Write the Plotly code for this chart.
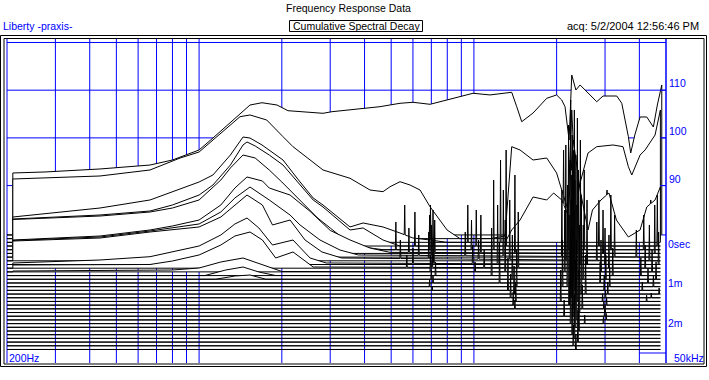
import numpy as np
import plotly.graph_objects as go

# ---------------- data ----------------
GRID_HZ = [200, 300, 400, 500, 600, 700, 800, 900,
           1000, 2000, 3000, 4000, 5000, 6000, 7000, 8000, 9000,
           10000, 20000, 30000, 40000, 50000]
LEVEL_GRID_DB = [120, 110, 100, 90]
LEVEL_LABEL_DB = [110, 100, 90]
LEVEL_LABELS = ["110", "100", "90"]
TIME_LABEL_MS = [0, 1, 2]
TIME_LABELS = ["0sec", "1m", "2m"]
FREQ_MIN_HZ, FREQ_MAX_HZ = 200, 50000
FREQ_MIN_LABEL, FREQ_MAX_LABEL = "200Hz", "50kHz"

SLICE_MS = [0.000, 0.094, 0.188, 0.282, 0.376, 0.470, 0.564, 0.658, 0.752, 0.846,
            0.940, 1.034, 1.128, 1.222, 1.316, 1.410, 1.504, 1.598, 1.692, 1.786,
            1.880, 1.974, 2.068, 2.162, 2.256, 2.350, 2.444, 2.538, 2.632, 2.726,
            2.820, 2.914]
ZERO_SEC_DB = 79.65      # level of the 0 sec slice floor
DB_PER_MS = 8.24         # vertical offset of slices per ms
SLICE_END_HZ = 47700

S0_HZ = [210, 275, 436, 663, 800, 1000, 1123, 1300, 1532, 1694, 1921, 2106, 2824, 3046, 3949,
         4554, 5384, 6004, 6924, 7986, 9926, 11446, 13726, 14314, 14928, 16414, 18408, 19996,
         20868, 21455, 22200, 22700, 23500, 24340, 25740, 27990, 29500, 33100, 34520, 36480,
         37200, 38500, 40240, 42560, 44980, 46500, 48260]
S0_DB = [92.64, 92.85, 93.48, 94.31, 95.36, 97.46, 99.97, 103.33, 106.89, 107.37, 106.89, 105.70,
         105.15, 105.49, 106.20, 106.54, 107.25, 107.46, 107.04, 107.94, 109.35, 109.00, 109.56,
         106.54, 103.39, 105.21, 108.30, 109.00, 107.94, 106.54, 99.55, 113.18, 110.04, 111.09,
         109.68, 107.58, 108.78, 108.78, 107.25, 100.25, 96.83, 100.60, 104.38, 104.38, 102.28,
         106.89, 111.09]

S1_HZ = [210, 436, 663, 853, 1000, 1300, 1409, 1532, 1762, 2020, 2197, 2824, 3542, 4188, 4670,
         4952, 5384, 5855, 6368, 6924, 7986, 8900, 9926, 11446, 12980, 13726, 14720, 16414, 18408,
         19996, 20868, 22000, 22700, 23500, 24500, 26020, 27990, 32080, 34880, 36480, 37540,
         40240, 41960, 45620, 47700]
S1_DB = [91.38, 92.01, 93.27, 95.78, 97.04, 102.70, 104.44, 104.80, 103.75, 100.25, 98.15, 93.27,
         91.53, 89.07, 88.72, 89.76, 90.81, 90.12, 89.07, 85.57, 80.69, 78.59, 78.17, 78.59, 79.43,
         98.15, 97.46, 95.36, 95.78, 92.64, 89.07, 84.88, 105.85, 86.98, 91.17, 96.83, 98.15,
         98.51, 98.15, 93.96, 92.22, 96.41, 97.46, 100.60, 105.85]

S2_HZ = [210, 436, 663, 800, 1000, 1123, 1300, 1445, 1532, 1694, 2020, 2300, 2600, 2824, 3542,
         3950, 4670, 5384, 6000, 6924, 7986, 9926, 12980, 13726, 14720, 16414, 18408, 19500,
         20868, 22000, 23000, 24340, 26020, 27000, 29000, 31000, 33000, 36480, 40240, 42560,
         45620, 47700]
S2_DB = [83.41, 85.30, 86.98, 88.65, 90.75, 92.22, 96.41, 100.18, 99.97, 98.51, 95.36, 91.17,
         87.40, 85.93, 81.32, 82.16, 81.32, 80.06, 79.01, 78.59, 77.96, 77.96, 77.96, 80.69, 82.78,
         87.61, 86.98, 88.44, 86.98, 83.83, 99.55, 89.07, 80.69, 84.88, 86.98, 88.44, 82.78,
         79.22, 80.69, 85.51, 86.98, 89.70]

S3_HZ = [210, 436, 663, 800, 1000, 1123, 1300, 1445, 1494, 1600, 1800, 2020, 2300, 2600, 2824,
         3542, 3950, 4670, 5384, 6000]
S3_DB = [82.99, 83.83, 84.67, 85.93, 88.02, 90.12, 94.31, 98.51, 99.14, 98.30, 96.41, 94.31,
         90.54, 86.98, 85.51, 80.69, 81.11, 78.59, 77.12, 76.49]

S4_HZ = [210, 436, 663, 800, 1000, 1200, 1300, 1445, 1600, 1800, 2000, 2330, 2700, 3000, 3400,
         3950, 4670]
S4_DB = [82.89, 83.62, 84.46, 85.30, 86.98, 91.17, 93.69, 96.41, 95.78, 93.27, 90.75, 86.98,
         83.20, 81.11, 78.59, 77.12, 76.08]

S5_HZ = [210, 436, 663, 800, 1000, 1200, 1350, 1494, 1700, 1800, 2143, 2534, 3000, 3542, 4188, 4952]
S5_DB = [78.59, 79.43, 80.69, 81.53, 82.78, 85.93, 89.49, 91.80, 90.96, 89.49, 88.02, 84.60,
         80.60, 78.60, 76.90, 76.00]

S6_HZ = [210, 436, 663, 800, 1000, 1200, 1350, 1532, 1800, 2143, 2330, 2754, 3256, 3800]
S6_DB = [78.49, 79.22, 80.48, 81.11, 81.95, 84.46, 87.40, 89.70, 86.98, 83.83, 81.74, 78.59,
         76.49, 75.45]

S7_HZ = [210, 436, 663, 800, 1000, 1200, 1350, 1494, 1700, 1850, 2143, 2430, 2800, 3300]
S7_DB = [78.38, 79.01, 80.27, 80.69, 81.32, 83.41, 85.93, 88.02, 85.93, 81.74, 82.78, 78.59,
         76.08, 74.82]

S8_HZ = [210, 436, 663, 800, 1000, 1200, 1350, 1494, 1650, 1850, 2197, 2534, 2900]
S8_DB = [73.77, 74.40, 75.09, 76.08, 77.33, 79.64, 81.95, 83.20, 81.11, 77.54, 78.59, 74.82, 73.77]

S9_HZ = [210, 436, 663, 800, 1000, 1200, 1350, 1532, 1700, 1900, 2197, 2600]
S9_DB = [73.35, 73.35, 73.46, 74.19, 75.45, 77.54, 79.43, 80.27, 78.59, 74.82, 76.08, 72.93]

S10_HZ = [210, 800, 1000, 1200, 1445, 1700, 2000]
S10_DB = [72.09, 72.30, 72.72, 73.98, 74.82, 73.35, 71.99]

S11_HZ = [200, 1050, 1250, 1445, 1650, 1900]
S11_DB = [71.14, 71.14, 72.30, 72.93, 71.88, 71.14]

S12_HZ = [200, 1150, 1350, 1532, 1750]
S12_DB = [70.37, 70.37, 71.04, 71.25, 70.37]

# narrow resonance spikes standing on the later slices
SPK_G_SLICE = [2, 3, 4, 5, 6, 7, 8, 9]
SPK_G_HZ = [5600, 6100, 5200, 5800, 6300, 5400, 6000, 5700]
SPK_G_DB = [85.93, 84.46, 82.37, 81.11, 79.64, 78.59, 76.91, 75.45]

SPK_A_SLICE = [2, 3, 4, 5, 6, 7, 8, 9, 10, 11, 12, 13, 14, 15]
SPK_A_HZ = [6950, 7100, 6900, 7200, 7000, 6850, 7150, 7050, 6950, 7250, 7000, 7100, 6900, 7050]
SPK_A_DB = [85.93, 84.88, 83.83, 82.78, 81.74, 80.27, 79.01, 77.54, 75.45, 73.98, 72.30, 71.25,
            70.21, 68.74]

SPK_B_SLICE = [2, 3, 4, 5, 6, 7, 8, 9, 10]
SPK_B_HZ = [9500, 10200, 9800, 10600, 9300, 10400, 9900, 10900, 10100]
SPK_B_DB = [85.93, 84.88, 82.78, 83.83, 80.27, 78.59, 77.54, 76.49, 73.98]

SPK_C_SLICE = [2, 3, 4, 5, 6, 7, 8, 9, 10, 11, 12, 13, 14, 15, 16, 17, 18, 19, 20]
SPK_C_HZ = [12500, 13100, 11800, 14100, 12800, 13500, 12200, 14500, 13000, 11600, 13800, 12400,
            14300, 13300, 14000, 13600, 14200, 13900, 14100]
SPK_C_DB = [95.36, 97.46, 91.17, 92.22, 89.07, 86.98, 85.93, 84.46, 82.78, 81.11, 79.64, 78.17,
            76.49, 74.82, 73.14, 71.46, 69.79, 67.69, 66.01]

SPK_D_SLICE = [2, 3, 4, 5, 6, 7, 8, 9, 10, 11, 12, 13, 14, 15, 16, 17, 18, 19, 20, 21, 22, 23,
               24, 25, 26, 27, 28, 29, 30, 31]
SPK_D_HZ = [22500, 23200, 22100, 23800, 22800, 21600, 24400, 23000, 22400, 23500, 24000, 22700,
            21900, 23300, 24600, 22600, 23700, 22200, 23100, 24200, 22900, 23600, 22500, 23400,
            24100, 22800, 23200, 23900, 23000, 23500]
SPK_D_DB = [107.94, 105.85, 102.70, 104.17, 100.60, 98.51, 99.55, 97.46, 95.36, 96.41, 93.27,
            92.22, 90.12, 91.17, 88.02, 86.98, 85.93, 83.83, 84.88, 81.74, 80.69, 78.59, 76.49,
            74.40, 72.30, 70.21, 67.06, 63.91, 60.77, 58.67]

SPK_D2_SLICE = [2, 4, 6, 8, 10, 12, 14, 16, 18, 20, 22, 24]
SPK_D2_HZ = [21200, 25200, 20900, 25800, 21400, 25000, 21000, 25500, 20700, 24800, 21300, 25300]
SPK_D2_DB = [97.46, 93.27, 89.07, 86.98, 84.88, 81.74, 78.59, 75.45, 72.30, 69.16, 66.01, 62.87]

SPK_E_SLICE = [2, 3, 4, 5, 6, 7, 8, 9, 10, 11, 12, 13, 14, 15, 16, 17, 18, 19, 20, 21, 22, 23, 24]
SPK_E_HZ = [30500, 28500, 31500, 29500, 32500, 28000, 30000, 31000, 29000, 32000, 30200, 28800,
            31200, 29800, 30700, 30100, 29400, 30400, 29700, 30000, 29900, 30300, 29600]
SPK_E_DB = [89.07, 86.98, 88.02, 84.88, 83.83, 82.37, 81.11, 79.64, 78.59, 76.91, 75.45, 73.98,
            72.72, 71.25, 69.79, 68.11, 67.30, 66.40, 65.60, 64.80, 64.00, 63.20, 62.40]

SPK_F_SLICE = [2, 3, 4, 5, 6, 7, 8, 9, 10, 11, 12, 13, 14, 15, 16, 17, 18]
SPK_F_HZ = [44000, 46500, 41500, 45500, 39000, 43500, 47000, 42000, 44500, 40500, 46000, 43000,
            45000, 41000, 47200, 44200, 42500]
SPK_F_DB = [86.98, 88.02, 83.83, 85.93, 80.69, 81.74, 80.27, 77.54, 76.49, 74.82, 73.98, 72.72,
            71.25, 69.79, 68.53, 67.48, 67.00]

TITLE = "Frequency Response Data"
SUBTITLE = "Cumulative Spectral Decay"
LEFT_TEXT = "Liberty -praxis-"
RIGHT_TEXT = "acq: 5/2/2004 12:56:46 PM"

# ---------------- layout geometry ----------------
W, H = 709, 380
L, R, T, B = 7, 666, 42, 363
DB_TOP = 120.1
PX_PER_DB = 4.77
DB_BOTTOM = DB_TOP - (B - T) / PX_PER_DB
BLUE = "#0000ff"
FONT = "Liberation Sans, Arial, sans-serif"
SPIKE_HALF_WIDTH = 1.004

LOG_LO, LOG_HI = np.log10(FREQ_MIN_HZ), np.log10(FREQ_MAX_HZ)


def hz_to_paper(f):
    return (np.log10(f) - LOG_LO) / (LOG_HI - LOG_LO)


def db_to_paper(d):
    return (d - DB_BOTTOM) / (DB_TOP - DB_BOTTOM)


def db_to_px(d):
    return T + (DB_TOP - d) * PX_PER_DB


def xpx(x):
    return (x - L) / (R - L)


def ypx(y):
    return (B - y) / (B - T)


CURVES = {0: (S0_HZ, S0_DB), 1: (S1_HZ, S1_DB), 2: (S2_HZ, S2_DB), 3: (S3_HZ, S3_DB),
          4: (S4_HZ, S4_DB), 5: (S5_HZ, S5_DB), 6: (S6_HZ, S6_DB), 7: (S7_HZ, S7_DB),
          8: (S8_HZ, S8_DB), 9: (S9_HZ, S9_DB), 10: (S10_HZ, S10_DB), 11: (S11_HZ, S11_DB),
          12: (S12_HZ, S12_DB)}

SPIKES = []
for sl, hz, db in [(SPK_G_SLICE, SPK_G_HZ, SPK_G_DB),
                   (SPK_A_SLICE, SPK_A_HZ, SPK_A_DB), (SPK_B_SLICE, SPK_B_HZ, SPK_B_DB),
                   (SPK_C_SLICE, SPK_C_HZ, SPK_C_DB), (SPK_D_SLICE, SPK_D_HZ, SPK_D_DB),
                   (SPK_D2_SLICE, SPK_D2_HZ, SPK_D2_DB), (SPK_E_SLICE, SPK_E_HZ, SPK_E_DB),
                   (SPK_F_SLICE, SPK_F_HZ, SPK_F_DB)]:
    SPIKES += list(zip(sl, hz, db))

fig = go.Figure()

# slices: back (earliest, highest) first, later slices drawn in front
for k, t in enumerate(SLICE_MS):
    floor = ZERO_SEC_DB - DB_PER_MS * t
    if k in CURVES:
        hz, db = list(CURVES[k][0]), list(CURVES[k][1])
    else:
        hz, db = [FREQ_MIN_HZ], [floor]
    if hz[-1] < SLICE_END_HZ:
        hz.append(SLICE_END_HZ)
        db.append(floor)
    hz = np.array(hz, float)
    db = np.array(db, float)
    sp = [(f, top) for (s, f, top) in SPIKES if s == k]
    if sp:
        lf = np.log10(hz)
        ef, ed = [], []
        for f, top in sp:
            for ff in (f / SPIKE_HALF_WIDTH, f * SPIKE_HALF_WIDTH):
                ef.append(ff)
                ed.append(np.interp(np.log10(ff), lf, db))
            ef.append(f)
            ed.append(top)
        hz = np.concatenate([hz, ef])
        db = np.concatenate([db, ed])
        order = np.argsort(hz, kind="stable")
        hz, db = hz[order], db[order]
    db = np.maximum(db, floor)
    xs = [FREQ_MIN_HZ, hz[0]] + list(hz) + [hz[-1], FREQ_MIN_HZ]
    ys = [floor, floor] + list(db) + [floor, floor]
    fig.add_trace(go.Scatter(x=xs, y=ys, mode="lines", fill="toself", fillcolor="white",
                             line=dict(color="black", width=1), hoverinfo="skip",
                             showlegend=False))

shapes = []
# blue grid (behind the slices)
for f in GRID_HZ:
    shapes.append(dict(type="line", xref="paper", yref="paper", x0=hz_to_paper(f), x1=hz_to_paper(f),
                       y0=ypx(B), y1=ypx(38.5), line=dict(color=BLUE, width=1), layer="below"))
for d in LEVEL_GRID_DB:
    shapes.append(dict(type="line", xref="paper", yref="paper", x0=0, x1=1,
                       y0=db_to_paper(d), y1=db_to_paper(d), line=dict(color=BLUE, width=1),
                       layer="below"))
# right axis
shapes.append(dict(type="line", xref="paper", yref="paper", x0=1, x1=1, y0=ypx(B), y1=ypx(38.5),
                   line=dict(color=BLUE, width=1), layer="above"))
for d in LEVEL_LABEL_DB:
    shapes.append(dict(type="line", xref="paper", yref="paper", x0=xpx(660), x1=1,
                       y0=db_to_paper(d), y1=db_to_paper(d), line=dict(color=BLUE, width=1),
                       layer="above"))
shapes.append(dict(type="line", xref="paper", yref="paper", x0=xpx(662), x1=1,
                   y0=db_to_paper(ZERO_SEC_DB), y1=db_to_paper(ZERO_SEC_DB),
                   line=dict(color=BLUE, width=1), layer="above"))
shapes.append(dict(type="line", xref="paper", yref="paper", x0=hz_to_paper(40000), x1=1,
                   y0=ypx(353), y1=ypx(353), line=dict(color=BLUE, width=1), layer="above"))
# double frame
shapes.append(dict(type="rect", xref="paper", yref="paper", x0=xpx(0.5), x1=xpx(706.5),
                   y0=ypx(366.5), y1=ypx(35.5), line=dict(color="black", width=1), layer="above"))
shapes.append(dict(type="rect", xref="paper", yref="paper", x0=xpx(4), x1=xpx(704),
                   y0=ypx(364), y1=ypx(38.5), line=dict(color="black", width=1), layer="above"))
# subtitle box
shapes.append(dict(type="rect", xref="paper", yref="paper", x0=xpx(289.5), x1=xpx(422.5),
                   y0=ypx(31.5), y1=ypx(20.5), line=dict(color="black", width=1), layer="above"))

ann = []


def text(s, x, y, anchor="left", color="black", size=11):
    ann.append(dict(text=s, xref="paper", yref="paper", x=xpx(x), y=ypx(y), xanchor=anchor,
                    yanchor="middle", showarrow=False, borderpad=0,
                    font=dict(family=FONT, size=size, color=color)))


text(TITLE, 348, 8, "center", size=10.5)
text(SUBTITLE, 356, 26, "center", size=10.5)
text(LEFT_TEXT, 2, 26, "left", BLUE, size=10.5)
text(RIGHT_TEXT, 700, 26, "right", size=11)
for d, s in zip(LEVEL_LABEL_DB, LEVEL_LABELS):
    text(s, 668, db_to_px(d) - 7, "left", BLUE, size=10.5)
for tm, s in zip(TIME_LABEL_MS, TIME_LABELS):
    text(s, 667, db_to_px(ZERO_SEC_DB - DB_PER_MS * tm) + 9, "left", BLUE, size=10.5)
text(FREQ_MAX_LABEL, 705, 357.5, "right", BLUE, size=10.5)
text(FREQ_MIN_LABEL, 7.5, 358, "left", BLUE, size=10.5)

fig.update_layout(
    width=W, height=H,
    margin=dict(l=L, r=W - R, t=T, b=H - B, pad=0),
    paper_bgcolor="white", plot_bgcolor="white",
    showlegend=False, hovermode=False,
    xaxis=dict(type="log", range=[LOG_LO, LOG_HI], visible=False, fixedrange=True),
    yaxis=dict(range=[DB_BOTTOM, DB_TOP], visible=False, fixedrange=True),
    shapes=shapes, annotations=ann,
)

fig.write_html("out.html", config={"staticPlot": True},
               post_script="document.body.style.margin='0';document.body.style.padding='0';"
                           "document.body.style.overflow='hidden';")
